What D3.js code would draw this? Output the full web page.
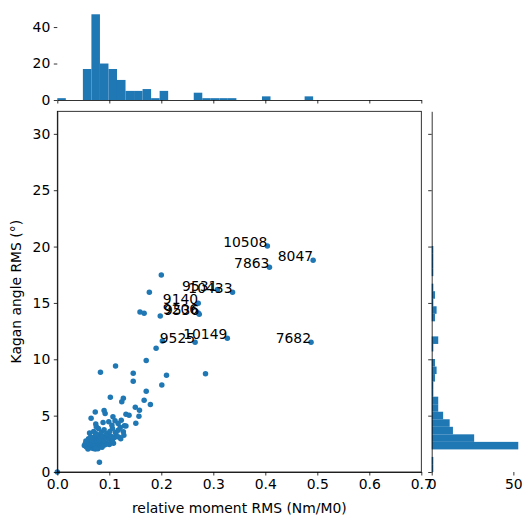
<!DOCTYPE html>
<html>
<head>
<meta charset="utf-8">
<script src="https://cdn.jsdelivr.net/npm/d3@7"></script>
<style>
  html, body { margin: 0; padding: 0; background: #ffffff; }
  svg { display: block; }
  text { font-family: "DejaVu Sans", sans-serif; font-size: 13.9px; fill: #000; }
</style>
</head>
<body>
<svg id="chart" width="532" height="525"></svg>
<script>
// ---- data ----
const momentRMS = [
  0.000, 0.081, 0.404, 0.492, 0.408, 0.308, 0.337, 0.271, 0.271, 0.273,
  0.265, 0.327, 0.488, 0.200, 0.177, 0.159, 0.167, 0.198, 0.202, 0.190,
  0.171, 0.083, 0.112, 0.146, 0.146, 0.210, 0.201, 0.285, 0.171, 0.102,
  0.127, 0.124, 0.167, 0.179, 0.150, 0.158, 0.073, 0.092, 0.132, 0.138,
  0.157, 0.065, 0.151,
  // dense cluster
  0.052, 0.054, 0.056, 0.057, 0.058, 0.060, 0.061, 0.062, 0.063, 0.064, 0.065, 0.059,
  0.066, 0.067, 0.067, 0.068, 0.069, 0.069, 0.070, 0.071, 0.071, 0.072,
  0.073, 0.073, 0.074, 0.075, 0.075, 0.076, 0.077, 0.077, 0.078, 0.078,
  0.079, 0.079, 0.080, 0.080, 0.081, 0.068, 0.072, 0.074, 0.076, 0.081,
  0.083, 0.084, 0.086, 0.087, 0.089, 0.091, 0.093, 0.096,
  0.100, 0.104, 0.108,
  0.055, 0.060, 0.064,
  0.067, 0.069, 0.071, 0.073, 0.074, 0.076, 0.077, 0.079, 0.080, 0.081,
  0.084, 0.087, 0.090, 0.093, 0.096,
  0.100, 0.103, 0.106, 0.110, 0.113,
  0.118, 0.122, 0.128,
  0.062, 0.070, 0.075, 0.079, 0.085, 0.090, 0.095, 0.101, 0.106, 0.112,
  0.117, 0.121, 0.127,
  0.074, 0.075, 0.088, 0.099, 0.105, 0.111, 0.117, 0.123, 0.129, 0.132,
  0.090, 0.107
];
const kaganRMS = [
  0.00, 0.86, 20.05, 18.78, 18.16, 16.18, 15.95, 14.97, 14.10, 14.00,
  11.50, 11.86, 11.50, 17.48, 15.94, 14.20, 14.08, 13.84, 11.62, 10.97,
  9.90, 8.85, 9.40, 8.76, 8.05, 8.58, 7.72, 8.72, 7.16, 6.63,
  6.54, 6.24, 6.36, 5.98, 5.74, 5.47, 5.32, 5.20, 5.12, 5.03,
  4.94, 4.76, 4.32,
  2.35, 2.52, 2.21, 2.44, 2.60, 2.30, 2.12, 2.48, 2.38, 2.25, 2.57, 2.05,
  2.31, 2.15, 2.62, 2.40, 2.08, 2.50, 2.27, 2.36, 2.58, 2.18,
  2.45, 2.03, 2.30, 2.55, 2.12, 2.40, 2.22, 2.64, 2.33, 2.06,
  2.47, 2.17, 2.38, 2.59, 2.26, 2.55, 2.42, 2.10, 2.61, 2.45,
  2.35, 2.55, 2.20, 2.48, 2.62, 2.40, 2.58, 2.50,
  2.45, 2.62, 2.55,
  2.75, 2.95, 3.10,
  2.80, 3.05, 2.72, 3.20, 2.90, 3.12, 2.78, 3.00, 3.25, 2.85,
  2.95, 3.15, 2.80, 3.05, 3.28,
  2.90, 3.18, 2.75, 3.05, 3.30,
  3.10, 2.95, 3.25,
  3.45, 3.60, 3.40, 3.85, 3.55, 3.75, 3.42, 3.60, 3.85, 3.50,
  3.70, 3.95, 3.58,
  4.26, 4.02, 4.40, 4.46, 4.15, 4.55, 4.30, 4.60, 4.10, 4.08,
  5.45, 4.90
];
const eventLabels = [
  "", "", "10508", "8047", "7863", "9531", "10433", "9140", "9206", "9536",
  "9525", "10149", "7682"
];
const xTicks = [0, 0.1, 0.2, 0.3, 0.4, 0.5, 0.6, 0.7];
const yTicks = [0, 5, 10, 15, 20, 25, 30];
const topHistTicks = [0, 20, 40];
const rightHistTicks = [0, 50];
const nBins = 30;
const xLabel = "relative moment RMS (Nm/M0)";
const yLabel = "Kagan angle RMS (°)";

// ---- layout ----
const main = { l: 57.3, r: 421.3, t: 111.3, b: 472 };
const topH = { t: 10, b: 100 };
const rightH = { l: 431.7, r: 522.6 };
const color = "#1f77b4";
const tickLen = 3.5;

const svg = d3.select("#chart");

const x = d3.scaleLinear().domain([0, 0.7]).range([main.l, main.r]);
const y = d3.scaleLinear().domain([0, 32]).range([main.b, main.t]);

// numpy-like histogram: nBins equal bins between min and max
function histogram(values) {
  const lo = d3.min(values), hi = d3.max(values);
  const w = (hi - lo) / nBins;
  const counts = new Array(nBins).fill(0);
  values.forEach(v => {
    let i = Math.floor((v - lo) / w);
    if (i >= nBins) i = nBins - 1;
    counts[i]++;
  });
  return counts.map((c, i) => ({ x0: lo + i * w, x1: lo + (i + 1) * w, count: c }));
}

const xBins = histogram(momentRMS);
const yBins = histogram(kaganRMS);

// ---- top histogram ----
const topMax = d3.max(xBins, d => d.count) * 1.05;
const yTop = d3.scaleLinear().domain([0, topMax]).range([topH.b, topH.t]);
svg.append("g").selectAll("rect").data(xBins.filter(d => d.count > 0)).join("rect")
  .attr("x", d => x(d.x0)).attr("width", d => x(d.x1) - x(d.x0))
  .attr("y", d => yTop(d.count)).attr("height", d => yTop(0) - yTop(d.count))
  .attr("fill", color);

const gTopX = svg.append("g").attr("transform", `translate(0,${topH.b})`)
  .call(d3.axisBottom(x).tickValues(xTicks).tickFormat("").tickSizeInner(tickLen).tickSizeOuter(0));
const gTopY = svg.append("g").attr("transform", `translate(${main.l},0)`)
  .call(d3.axisLeft(yTop).tickValues(topHistTicks).tickFormat(d3.format("d")).tickSizeInner(tickLen).tickSizeOuter(0).tickPadding(3.5));
gTopY.select(".domain").remove();

// ---- right histogram ----
const rightMax = d3.max(yBins, d => d.count) * 1.05;
const xRight = d3.scaleLinear().domain([0, rightMax]).range([rightH.l, rightH.r]);
svg.append("g").selectAll("rect").data(yBins.filter(d => d.count > 0)).join("rect")
  .attr("x", xRight(0)).attr("width", d => xRight(d.count) - xRight(0))
  .attr("y", d => y(d.x1)).attr("height", d => y(d.x0) - y(d.x1))
  .attr("fill", color);

const gRightY = svg.append("g").attr("transform", `translate(${rightH.l},0)`)
  .call(d3.axisLeft(y).tickValues(yTicks).tickFormat("").tickSizeInner(tickLen).tickSizeOuter(0));
const gRightX = svg.append("g").attr("transform", `translate(0,${main.b})`)
  .call(d3.axisBottom(xRight).tickValues(rightHistTicks).tickFormat(d3.format("d")).tickSizeInner(tickLen).tickSizeOuter(0).tickPadding(3.5));
gRightX.select(".domain").remove();

// ---- main scatter ----
const pts = momentRMS.map((v, i) => ({ x: v, y: kaganRMS[i], label: eventLabels[i] || "" }));
svg.append("g").selectAll("circle").data(pts).join("circle")
  .attr("cx", d => x(d.x)).attr("cy", d => y(d.y)).attr("r", 2.75)
  .attr("fill", color);

svg.append("g").selectAll("text").data(pts.filter(d => d.label)).join("text")
  .attr("x", d => x(d.x)).attr("y", d => y(d.y) + 1)
  .attr("text-anchor", "end")
  .text(d => d.label);

const gX = svg.append("g").attr("transform", `translate(0,${main.b})`)
  .call(d3.axisBottom(x).tickValues(xTicks).tickFormat(d3.format(".1f")).tickSizeInner(tickLen).tickSizeOuter(0).tickPadding(3.5));
const gY = svg.append("g").attr("transform", `translate(${main.l},0)`)
  .call(d3.axisLeft(y).tickValues(yTicks).tickFormat(d3.format("d")).tickSizeInner(tickLen).tickSizeOuter(0).tickPadding(3.5));

// frame of the main axes
svg.append("rect").attr("x", main.l).attr("y", main.t)
  .attr("width", main.r - main.l).attr("height", main.b - main.t)
  .attr("fill", "none").attr("stroke", "#000").attr("stroke-width", 0.8);

// styling of all axes
svg.selectAll(".tick line").attr("stroke", "#000").attr("stroke-width", 0.8);
svg.selectAll(".domain").attr("stroke", "#000").attr("stroke-width", 0.8);
svg.selectAll(".tick text").attr("font-family", "DejaVu Sans, sans-serif").attr("font-size", "13.9px").attr("fill", "#000");

// axis titles
svg.append("text").attr("x", (main.l + main.r) / 2).attr("y", 513)
  .attr("text-anchor", "middle").text(xLabel);
svg.append("text").attr("transform", `translate(20.5,${(main.t + main.b) / 2}) rotate(-90)`)
  .attr("text-anchor", "middle").text(yLabel);
</script>
</body>
</html>
